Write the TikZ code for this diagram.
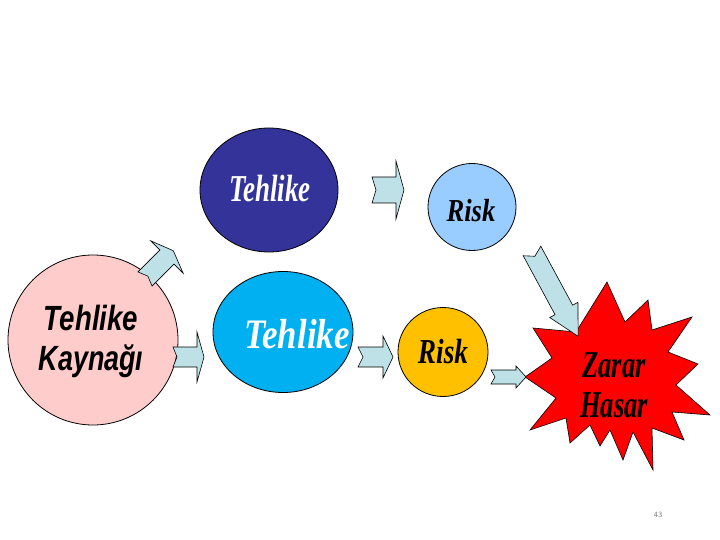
\documentclass[tikz,border=0pt]{standalone}
\usepackage{graphicx}
\usepackage{fontspec}
\setmainfont{Liberation Serif}
\newfontfamily\arialf{Liberation Sans}
\usetikzlibrary{shapes.geometric}
\definecolor{pinkc}{RGB}{255,204,204}
\definecolor{darkb}{RGB}{51,51,153}
\definecolor{cyanb}{RGB}{0,176,240}
\definecolor{lightb}{RGB}{153,204,255}
\definecolor{orangec}{RGB}{255,192,0}
\definecolor{arrowc}{RGB}{189,225,230}
\newcommand\sqtext[3]{{\fontsize{#1}{#1}\selectfont\scalebox{#2}[1]{#3}}}
% tail x,y ; angle ; L ; w ; h ; Lh ; notch
\newcommand\blockarrow[8]{%
  \draw[barrow, shift={(#1,#2)}, rotate=#3]
    (0,#5) -- ({#4-#7},#5) -- ({#4-#7},#6) -- (#4,0) -- ({#4-#7},-#6)
    -- ({#4-#7},-#5) -- (0,-#5) -- (#8,0) -- cycle;}
\begin{document}
\begin{tikzpicture}[x=1pt,y=-1pt,
  bubble/.style={draw=black, line width=0.8pt, ellipse, inner sep=0pt},
  barrow/.style={draw=black, line width=0.6pt, fill=arrowc, line join=miter},
  serifbi/.style={font=\bfseries\itshape, inner sep=0pt, anchor=base},
  sansbi/.style={font=\arialf\bfseries\itshape, inner sep=0pt, anchor=base}]
\useasboundingbox (0,0) rectangle (720,540);
\fill[white] (0,0) rectangle (720,540);

% nodes
\node[bubble, fill=pinkc, minimum width=170pt, minimum height=170pt] (src) at (93,340) {};
\node[sansbi] (srctext1) at (91,330) {\sqtext{35}{0.79}{Tehlike}};
\node[sansbi] (srctext2) at (91,370) {\sqtext{35}{0.77}{Kaynağı}};

\node[bubble, fill=darkb, minimum width=138pt, minimum height=124pt] (t1) at (269,190) {};
\node[serifbi, text=white] (t1text) at (270,202) {\sqtext{38}{0.71}{Tehlike}};

\node[bubble, fill=cyanb, minimum width=140pt, minimum height=121pt] (t2) at (283,332) {};
\node[serifbi, text=white] (t2text) at (297,348) {\sqtext{42}{0.83}{Tehlike}};

\node[bubble, fill=lightb, minimum width=88pt, minimum height=87pt] (r1) at (472,207) {};
\node[serifbi] (r1text) at (471,222) {\sqtext{32}{0.83}{Risk}};

\node[bubble, fill=orangec, minimum width=90pt, minimum height=89pt] (r2) at (443,352) {};
\node[serifbi] (r2text) at (443,363) {\sqtext{35}{0.78}{Risk}};

% starburst
\draw[black, line width=0.6pt, fill=red]
  (533,328) -- (576,332) -- (607,282) -- (625,322) -- (648,300) -- (652,330)
  -- (692,317) -- (668,352) -- (698,364) -- (676,385) -- (710,415) -- (672,412)
  -- (684,440) -- (652,428) -- (653,470) -- (633,432) -- (623,460) -- (610,430)
  -- (600,446) -- (590,425) -- (570,443) -- (566,418) -- (530,430) -- (556,398)
  -- (525,377) -- (552,358) -- cycle;
\node[serifbi] (harm1) at (614,377) {\sqtext{38}{0.7}{Zarar}};
\node[serifbi] (harm2) at (614,417) {\sqtext{38}{0.7}{Hasar}};

% block arrows
\blockarrow{145}{279}{45}{40}{10}{23}{9}{4}
\blockarrow{173}{357}{0}{31}{10}{25}{7}{4}
\blockarrow{372}{190}{0}{32}{13}{29}{8}{4}
\blockarrow{358}{357}{0}{35}{10}{21}{10}{5}
\blockarrow{491}{377}{0}{35}{7}{11}{10}{4}
\blockarrow{532}{251}{-61.6}{97}{10}{16}{30}{6}

\node[text=gray, font=\sffamily\fontsize{8}{8}\selectfont, inner sep=0pt] (pg) at (658,515) {43};
\end{tikzpicture}
\end{document}
